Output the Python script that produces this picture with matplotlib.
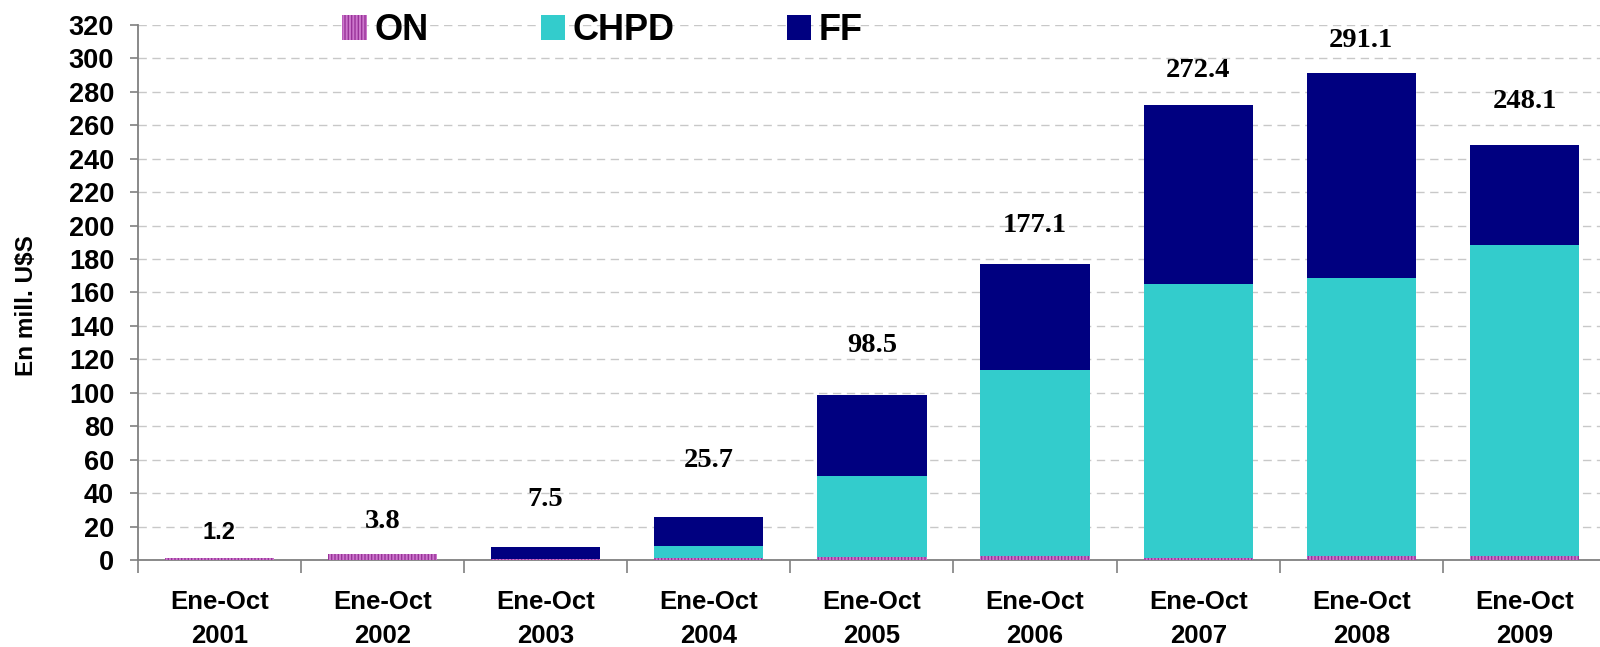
import numpy as np
import matplotlib.pyplot as plt
from matplotlib.ticker import MultipleLocator, FixedLocator

# --- data ---
years = ["2001", "2002", "2003", "2004", "2005", "2006", "2007", "2008", "2009"]
on_vals = [1.2, 3.8, 0.8, 1.0, 1.5, 2.5, 1.0, 2.5, 2.5]
chpd_vals = [0.0, 0.0, 0.0, 7.5, 48.5, 111.0, 164.0, 166.0, 186.0]
ff_vals = [0.0, 0.0, 6.7, 17.2, 48.5, 63.6, 107.4, 122.6, 59.6]
totals = [1.2, 3.8, 7.5, 25.7, 98.5, 177.1, 272.4, 291.1, 248.1]

SANS = ["Liberation Sans", "DejaVu Sans"]
SERIF = ["Liberation Serif", "DejaVu Serif"]
GREY = "#808080"

fig = plt.figure(figsize=(16, 6.47), dpi=100)
ax = fig.add_axes([0.0861, 0.1345, 0.9177, 0.8269])

x = np.arange(len(years))
w = 0.67
on = np.array(on_vals)
chpd = np.array(chpd_vals)
ff = np.array(ff_vals)

ax.bar(x, on, w, color="#cc77cc", edgecolor="#993399", hatch="|||||",
       linewidth=0, label="ON", zorder=3)
ax.bar(x, chpd, w, bottom=on, color="#33cccc", linewidth=0, label="CHPD", zorder=3)
ax.bar(x, ff, w, bottom=on + chpd, color="#000080", linewidth=0, label="FF", zorder=3)

# value labels above each stack (offsets follow the hand placement in the original)
label_offsets = [15.5, 19, 28.5, 34, 29.5, 23, 20.6, 19.5, 26]
for i, (xi, t, off) in enumerate(zip(x, totals, label_offsets)):
    if i == 0:
        ax.text(xi, t + off, f"{t:.1f}", ha="center", va="center",
                family=SANS, fontweight="bold", fontsize=17)
    else:
        ax.text(xi, t + off, f"{t:.1f}", ha="center", va="center",
                family=SERIF, fontweight="bold", fontsize=20.5)

ax.set_xlim(-0.5, len(years) - 0.5)
ax.set_ylim(0, 320)
ax.yaxis.set_major_locator(MultipleLocator(20))
ax.grid(axis="y", color="#c8c8c8", linestyle=(0, (6, 4)), linewidth=1, zorder=0)
ax.set_axisbelow(True)

# category boundaries as ticks, labels at centres
ax.xaxis.set_major_locator(FixedLocator(np.arange(-0.5, len(years), 1.0)))
ax.xaxis.set_minor_locator(FixedLocator(x))
ax.set_xticklabels([])
ax.set_xticklabels([f"Ene-Oct\n{y}" for y in years], minor=True,
                   family=SANS, fontweight="bold", fontsize=18.5, linespacing=1.52)
ax.tick_params(axis="x", which="major", length=9, width=1.2, color=GREY, direction="out")
ax.tick_params(axis="x", which="minor", length=0, pad=21.5)
ax.tick_params(axis="y", length=6, width=1.2, color=GREY, pad=11)
for lbl in ax.get_yticklabels():
    lbl.set_family(SANS)
    lbl.set_fontweight("bold")
    lbl.set_fontsize(19.5)

for s in ("top", "right"):
    ax.spines[s].set_visible(False)
for s in ("left", "bottom"):
    ax.spines[s].set_color(GREY)
    ax.spines[s].set_linewidth(1.3)

ax.set_ylabel("En mill. U$S", family=SANS, fontweight="bold", fontsize=17.5)
ax.yaxis.set_label_coords(-0.068, 0.475)

fig.legend(*ax.get_legend_handles_labels(), loc="center left",
           bbox_to_anchor=(0.214, 0.953), ncol=3, frameon=False,
           prop={"family": SANS, "weight": "bold", "size": 26},
           borderpad=0, borderaxespad=0,
           handlelength=0.67, handleheight=0.67, handletextpad=0.22,
           columnspacing=3.1)

fig.savefig("out.png", dpi=100)
